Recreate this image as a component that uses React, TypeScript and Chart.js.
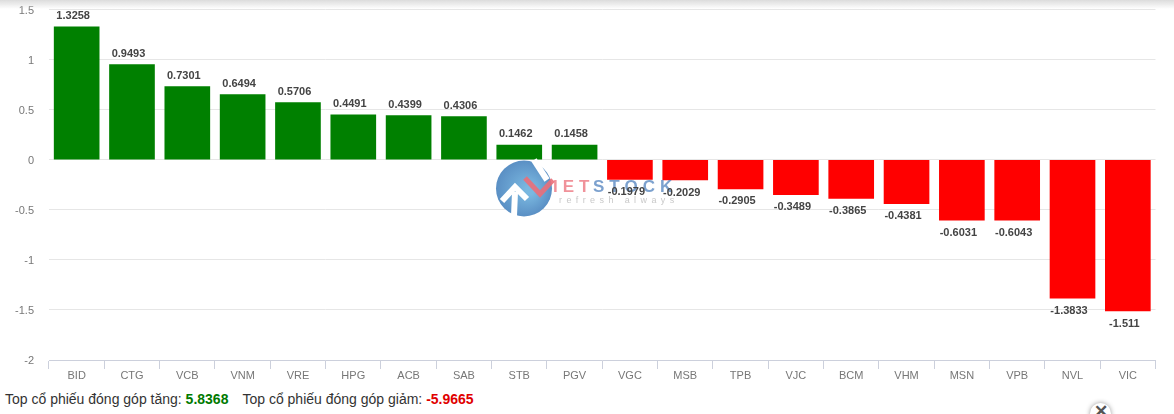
import React, { useEffect, useRef } from "react";
import { Chart, registerables } from "chart.js";

Chart.register(...registerables);

const categories = ["BID", "CTG", "VCB", "VNM", "VRE", "HPG", "ACB", "SAB", "STB", "PGV", "VGC", "MSB", "TPB", "VJC", "BCM", "VHM", "MSN", "VPB", "NVL", "VIC"];
const values = [1.3258, 0.9493, 0.7301, 0.6494, 0.5706, 0.4491, 0.4399, 0.4306, 0.1462, 0.1458, -0.1979, -0.2029, -0.2905, -0.3489, -0.3865, -0.4381, -0.6031, -0.6043, -1.3833, -1.511];
const upLabel = "Top cổ phiếu đóng góp tăng:";
const downLabel = "Top cổ phiếu đóng góp giảm:";
const upTotal = "5.8368";
const downTotal = "-5.9665";

const FONT = '"Liberation Sans", Arial, sans-serif';

const watermark = {
  id: "watermark",
  afterDatasetsDraw(chart: any) {
    const c = chart.ctx as CanvasRenderingContext2D;
    const cx = 524, cy = 188.5;
    c.save();
    const g = c.createRadialGradient(cx + 6, cy + 2, 4, cx, cy, 28);
    g.addColorStop(0, "#7ab8e0");
    g.addColorStop(1, "#5a8fc4");
    c.fillStyle = g;
    c.beginPath();
    c.arc(cx, cy, 28, 0, Math.PI * 2);
    c.fill();
    c.strokeStyle = "#ffffff";
    c.lineWidth = 6;
    c.beginPath();
    c.moveTo(514, 216); c.lineTo(515, 192);
    c.moveTo(502, 201); c.lineTo(515, 187); c.lineTo(527, 199);
    c.stroke();
    c.beginPath();
    c.moveTo(534, 160); c.lineTo(547, 180);
    c.stroke();
    c.strokeStyle = "rgba(235,110,120,0.9)";
    c.lineWidth = 5;
    c.beginPath();
    c.moveTo(525, 178); c.lineTo(540, 194); c.lineTo(553, 180);
    c.stroke();
    c.textBaseline = "middle";
    c.textAlign = "left";
    c.font = `bold 17px ${FONT}`;
    (c as any).letterSpacing = "5px";
    c.fillStyle = "rgba(235,110,120,0.75)";
    c.fillText("IET", 553, 187);
    c.fillStyle = "rgba(80,130,190,0.75)";
    c.fillText("STOCK", 593, 187);
    c.font = `9px ${FONT}`;
    c.fillStyle = "#c9c9c9";
    (c as any).letterSpacing = "4.4px";
    c.fillText("refresh always", 559, 201);
    c.restore();
  },
};

const valueLabels = {
  id: "valueLabels",
  afterDatasetsDraw(chart: any) {
    const c = chart.ctx as CanvasRenderingContext2D;
    const meta = chart.getDatasetMeta(0);
    c.save();
    c.font = `bold 11px ${FONT}`;
    c.fillStyle = "#444444";
    c.textAlign = "center";
    c.textBaseline = "middle";
    meta.data.forEach((bar: any, i: number) => {
      const v = values[i];
      const y = v >= 0 ? bar.y - 11 : bar.y + 12.5;
      c.fillText(String(v), bar.x - 3.5, y);
    });
    c.restore();
  },
};

export default function App() {
  const ref = useRef<HTMLCanvasElement>(null);

  useEffect(() => {
    const chart = new Chart(ref.current!, {
      type: "bar",
      data: {
        labels: categories,
        datasets: [
          {
            data: values,
            backgroundColor: values.map((v) => (v >= 0 ? "#008000" : "#ff0000")),
            barThickness: 45,
            borderWidth: 0,
          },
        ],
      },
      options: {
        animation: false,
        responsive: false,
        devicePixelRatio: 1,
        layout: { autoPadding: false, padding: { top: 9.5, left: 0, right: 18.5, bottom: 0 } },
        plugins: { legend: { display: false }, tooltip: { enabled: false } },
        scales: {
          x: {
            afterFit: (s: any) => { s.height = 28; },
            grid: { drawOnChartArea: false, drawTicks: true, tickLength: 9, color: "#ccd0dc", offset: true },
            border: { color: "#ccd0dc", width: 1 },
            ticks: { color: "#777777", font: { family: FONT, size: 11 }, padding: 0, maxRotation: 0, autoSkip: false },
          },
          y: {
            min: -2,
            max: 1.5,
            afterFit: (s: any) => { s.width = 49; },
            grid: { color: "#e6e6e6", lineWidth: 1, drawTicks: true, tickLength: 15, tickColor: "rgba(0,0,0,0)" },
            border: { display: false },
            ticks: {
              stepSize: 0.5,
              color: "#777777",
              padding: 0,
              labelOffset: 1,
              font: { family: FONT, size: 11 },
              callback: (v: any) => String(Number(v)),
            },
          },
        },
      } as any,
      plugins: [watermark, valueLabels],
    });
    return () => chart.destroy();
  }, []);

  return (
    <div style={{ position: "absolute", left: 0, top: 0, width: 1174, height: 414, overflow: "hidden", background: "#fff", fontFamily: FONT }}>
      <canvas ref={ref} width={1174} height={388} style={{ position: "absolute", left: 0, top: 0, width: 1174, height: 388 }} />
      <div style={{ position: "absolute", left: 0, top: 0, width: 1174, height: 9, background: "linear-gradient(#dcdcdc, rgba(255,255,255,0))" }} />
      <div style={{ position: "absolute", left: 5, top: 391, fontSize: 14, color: "#333", whiteSpace: "pre" }}>
        {upLabel} <b style={{ color: "#007a00" }}>{upTotal}</b>
        <span style={{ marginLeft: 14 }}>{downLabel}</span> <b style={{ color: "#e00000" }}>{downTotal}</b>
      </div>
      <div style={{ position: "absolute", left: 1090, top: 403, width: 21, height: 21, borderRadius: 11, background: "#fff", boxShadow: "0 0 5px #999", textAlign: "center", fontSize: 17, lineHeight: "17px", fontWeight: "bold", color: "#555" }}>✕</div>
    </div>
  );
}
